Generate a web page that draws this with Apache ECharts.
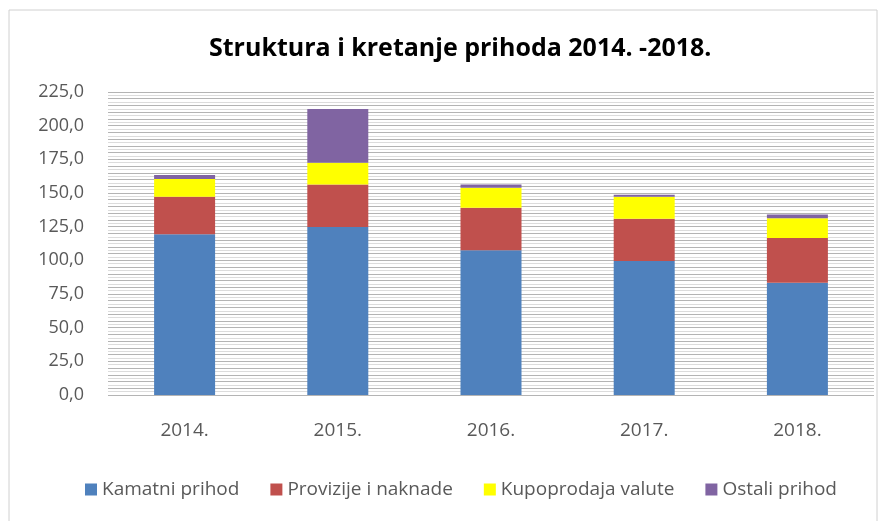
<!DOCTYPE html>
<html>
<head>
<meta charset="utf-8">
<script src="https://cdn.jsdelivr.net/npm/echarts@6/dist/echarts.min.js"></script>
<style>
  html, body { margin: 0; padding: 0; background: #fff; }
  #chart { width: 888px; height: 521px; }
</style>
</head>
<body>
<div id="chart"></div>
<script>
// podaci ocitani sa slike
var years = ['2014.', '2015.', '2016.', '2017.', '2018.']
var kamatni = [119.3, 124.7, 107.4, 99.5, 83.4]
var provizije = [27.9, 31.7, 31.7, 31.4, 33.2]
var kupoprodaja = [13.2, 16.1, 14.8, 16.3, 14.6]
var ostali = [2.9, 39.8, 2.5, 1.5, 2.9]
var yMax = 225
var yStep = 25

var chart = echarts.init(document.getElementById('chart'))

function bar (name, data, color) {
  return {
    name: name,
    type: 'bar',
    stack: 'ukupno',
    barWidth: 61,
    data: data,
    itemStyle: { color: color }
  }
}

var option = {
  animation: false,
  textStyle: { fontFamily: 'Open Sans' },
  title: {
    text: 'Struktura i kretanje prihoda 2014. -2018.',
    left: 204,
    top: 31,
    textStyle: { fontSize: 25, fontWeight: 'bold', color: '#000', fontFamily: 'Open Sans' }
  },
  graphic: [{
    type: 'rect',
    shape: { x: 9, y: 10, width: 868, height: 520 },
    style: { fill: 'none', stroke: '#d0d0d0', lineWidth: 1 }
  }],
  legend: {
    bottom: 17,
    left: 80,
    icon: 'rect',
    itemWidth: 12,
    itemHeight: 12,
    itemGap: 31,
    textStyle: { fontSize: 19, color: '#595959' },
    data: ['Kamatni prihod', 'Provizije i naknade', 'Kupoprodaja valute', 'Ostali prihod']
  },
  grid: { left: 108, right: 14, top: 92, height: 303 },
  xAxis: {
    type: 'category',
    data: years,
    axisLine: { show: false },
    axisTick: { show: false },
    axisLabel: { fontSize: 19, color: '#595959', margin: 26 }
  },
  yAxis: {
    type: 'value',
    min: 0,
    max: yMax,
    interval: yStep / 10,
    axisLine: { show: false },
    axisTick: { show: false },
    axisLabel: {
      fontSize: 18,
      color: '#595959',
      margin: 24,
      formatter: function (v) {
        if (Math.abs(v / yStep - Math.round(v / yStep)) > 1e-6) return ''
        return v.toFixed(1).replace('.', ',')
      }
    },
    splitLine: { lineStyle: { color: ['#b4b4b4', '#dcdcdc'], width: 1 } }
  },
  series: [
    bar('Kamatni prihod', kamatni, '#4f81bd'),
    bar('Provizije i naknade', provizije, '#c0504d'),
    bar('Kupoprodaja valute', kupoprodaja, '#ffff00'),
    bar('Ostali prihod', ostali, '#8064a2')
  ]
}

chart.setOption(option)
</script>
</body>
</html>
